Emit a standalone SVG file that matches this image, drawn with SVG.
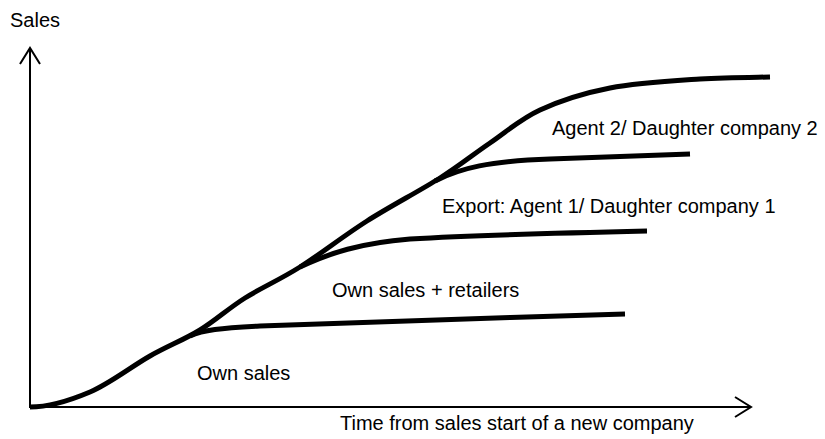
<svg xmlns="http://www.w3.org/2000/svg" width="825" height="439" viewBox="0 0 825 439">
<style>
text{font-family:"Liberation Sans",Arial,sans-serif;font-size:20px;fill:#000}
.ax{fill:none;stroke:#000;stroke-width:2}
.cv{fill:none;stroke:#000;stroke-width:5;stroke-linecap:butt;stroke-linejoin:round}
</style>
<rect width="825" height="439" fill="#fff"/>
<g id="axes">
<path class="ax" d="M30,408 V48 M20,64 L30,48 L40,64"/>
<path class="ax" d="M29,407 H751 M735,397 L751,407 L735,417"/>
<text x="10" y="27">Sales</text>
<text x="340" y="430">Time from sales start of a new company</text>
</g>
<g id="connectors">
<path class="cv" d="M30,407 C50,407 70,400.5 90,392 C110,383.5 131.7,366.3 150,356 C168.3,345.7 184.2,339.7 200,330 C215.8,320.3 228.3,308.5 245,298 C261.7,287.5 279.7,279.8 300,267 C320.3,254.2 343.7,235.8 367,221 C390.3,206.2 419.5,191 440,178 C460.5,165 473.3,154.3 490,143 C506.7,131.7 520,119.2 540,110 C560,100.8 583.3,93.2 610,88 C636.7,82.8 673.3,80.8 700,79 C726.7,77.2 758.3,77.3 770,77"/>
<path class="cv" d="M190,336 C203,330 220,328 260,326 C350,322 500,318 625,314"/>
<path class="cv" d="M300,267 C330,253 360,243 410,239 C480,235 560,233 647,231"/>
<path class="cv" d="M435,181 C460,168 490,161 550,159 C600,157 650,155 690,154"/>
</g>
<g id="labels">
<text x="197" y="380">Own sales</text>
<text x="332" y="297">Own sales + retailers</text>
<text x="442" y="213">Export: Agent 1/ Daughter company 1</text>
<text x="552" y="135">Agent 2/ Daughter company 2</text>
</g>
</svg>
